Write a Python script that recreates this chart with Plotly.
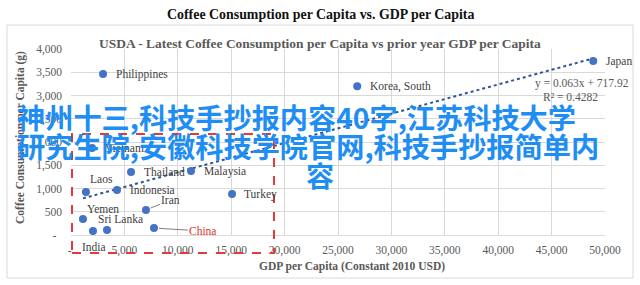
import plotly.graph_objects as go

# ---------------- data ----------------
countries = ["Philippines", "Korea, South", "Japan", "Vietnam", "Thailand", "Malaysia",
             "Laos", "Indonesia", "Turkey", "Iran", "Yemen", "India", "Sri Lanka", "China"]
gdp_per_capita = [3000, 26800, 48900, 1970, 5620, 11240, 1400, 4310, 15080, 7020, 1120, 2060, 3370, 7770]
coffee_per_capita = [3460, 3200, 3740, 1870, 1355, 1375, 925, 970, 880, 540, 345, 85, 110, 150]

trend_slope = 0.063
trend_intercept = 717.92
trend_eq_text = "y = 0.063x + 717.92"
trend_r2_text = "R² = 0.4282"

x_tick_vals = [0, 5000, 10000, 15000, 20000, 25000, 30000, 35000, 40000, 45000, 50000]
x_tick_text = ["-\u00a0", "5,000", "10,000", "15,000", "20,000", "25,000", "30,000",
               "35,000", "40,000", "45,000", "50,000"]
y_tick_vals = [0, 500, 1000, 1500, 2000, 2500, 3000, 3500, 4000]
y_tick_text = ["-\u00a0\u00a0", "500", "1,000", "1,500", "2,000", "2,500", "3,000", "3,500", "4,000"]

title_text = "Coffee Consumption per Capita vs. GDP per Capita"
subtitle_text = "USDA - Latest Coffee Consumption per Capita vs prior year GDP per Capita"
x_title = "GDP per Capita (Constant 2010 USD)"
y_title = "Coffee Consumption per Capita (g)"

overlay_lines = ["神州十三,科技手抄报内容40字,江苏科技大学",
                 "研究生院,安徽科技学院官网,科技手抄报简单内",
                 "容"]

# ---------------- layout geometry (pixels) ----------------
W, H = 640, 285
PL, PR, PT, PB = 71, 605, 49, 235   # plot area


def px_x(p):
    return (p - PL) / (PR - PL)


def px_y(p):
    return (PB - p) / (PB - PT)


SERIF = "Liberation Serif, Times New Roman, serif"
GREY = "#595959"
LABEL_GREY = "#404040"
MARKER = "#4472C4"

fig = go.Figure()

# trendline (from equation shown on chart, across data x-range)
x_min, x_max = min(gdp_per_capita), max(gdp_per_capita)
fig.add_trace(go.Scatter(
    x=[x_min, x_max],
    y=[trend_slope * x_min + trend_intercept, trend_slope * x_max + trend_intercept],
    mode="lines", line=dict(color="#2F5597", width=2, dash="dot"),
    hoverinfo="skip", showlegend=False))

fig.add_trace(go.Scatter(
    x=gdp_per_capita, y=coffee_per_capita, mode="markers",
    marker=dict(color=MARKER, size=8),
    text=countries, showlegend=False))

# label offsets (style): (xanchor, xshift, yshift)
label_style = {
    "Philippines": ("left", 11, 0),
    "Korea, South": ("left", 11, 0),
    "Japan": ("left", 11, 0),
    "Vietnam": ("left", 11, 0),
    "Thailand": ("left", 11, 0),
    "Malaysia": ("left", 11, 0),
    "Laos": ("center", 16, 13),
    "Indonesia": ("left", 11, 0),
    "Turkey": ("left", 10, 0),
    "Yemen": ("center", 20, 10),
    "Sri Lanka": ("center", 14, 11),
    "India": ("center", 1, -16),
}
annotations = []
for name, gx, cy in zip(countries, gdp_per_capita, coffee_per_capita):
    if name in label_style:
        xa, xs, ys = label_style[name]
        annotations.append(dict(x=gx, y=cy, xref="x", yref="y", text=name, showarrow=False,
                                xanchor=xa, yanchor="middle", xshift=xs, yshift=ys,
                                font=dict(family=SERIF, size=11.5, color=LABEL_GREY)))
    elif name == "Iran":
        annotations.append(dict(x=gx, y=cy, xref="x", yref="y", text=name, showarrow=True,
                                arrowhead=0, arrowwidth=1, arrowcolor="#7f7f7f", ax=25, ay=-10,
                                standoff=5,
                                font=dict(family=SERIF, size=11.5, color=LABEL_GREY)))
    elif name == "China":
        annotations.append(dict(x=gx, y=cy, xref="x", yref="y", text=name, showarrow=True,
                                arrowhead=0, arrowwidth=1, arrowcolor="#7f7f7f", ax=49, ay=3,
                                standoff=5,
                                font=dict(family=SERIF, size=11.5, color="#E0302A")))

# titles
annotations += [
    dict(x=px_x(320), y=px_y(15), xref="paper", yref="paper", text="<b>" + title_text + "</b>",
         showarrow=False, xanchor="center", yanchor="middle",
         font=dict(family=SERIF, size=13.9, color="#111111")),
    dict(x=px_x(320), y=px_y(43), xref="paper", yref="paper", text="<b>" + subtitle_text + "</b>",
         showarrow=False, xanchor="center", yanchor="middle",
         font=dict(family=SERIF, size=13.45, color=GREY)),
    dict(x=px_x(352), y=px_y(266), xref="paper", yref="paper", text="<b>" + x_title + "</b>",
         showarrow=False, xanchor="center", yanchor="middle",
         font=dict(family=SERIF, size=11.5, color=GREY)),
    dict(x=px_x(20), y=px_y(138), xref="paper", yref="paper", text="<b>" + y_title + "</b>",
         showarrow=False, xanchor="center", yanchor="middle", textangle=-90,
         font=dict(family=SERIF, size=11.5, color=GREY)),
    dict(x=px_x(631), y=px_y(83), xref="paper", yref="paper", text=trend_eq_text,
         showarrow=False, xanchor="right", yanchor="middle",
         font=dict(family=SERIF, size=11.5, color=GREY)),
    dict(x=px_x(600), y=px_y(97), xref="paper", yref="paper", text=trend_r2_text,
         showarrow=False, xanchor="right", yanchor="middle",
         font=dict(family=SERIF, size=11.5, color=GREY)),
]

# overlay Chinese text
overlay_pos = [(15, 116, "left"), (15, 145, "left"), (320, 174, "center")]
for line, (ox, oy, anc) in zip(overlay_lines, overlay_pos):
    annotations.append(dict(x=px_x(ox), y=px_y(oy), xref="paper", yref="paper",
                            text="<b>" + line + "</b>", showarrow=False,
                            xanchor=anc, yanchor="middle",
                            font=dict(family="Noto Sans CJK SC", size=28.2, color="#1E8EF5")))

shapes = [
    # outer chart frame
    dict(type="rect", xref="paper", yref="paper", x0=px_x(7), x1=px_x(633), y0=px_y(278), y1=px_y(25),
         line=dict(color="#D9D9D9", width=1), layer="below"),
    # red dashed highlight box
    dict(type="rect", xref="paper", yref="paper", x0=px_x(72), x1=px_x(274), y0=px_y(253), y1=px_y(134),
         line=dict(color="#E03C3C", width=2, dash="dash")),
]

fig.update_layout(
    width=W, height=H, autosize=False,
    margin=dict(l=PL, r=W - PR, t=PT, b=H - PB, pad=0),
    paper_bgcolor="white", plot_bgcolor="white",
    showlegend=False,
    annotations=annotations, shapes=shapes,
    xaxis=dict(range=[0, 50000], tickvals=x_tick_vals, ticktext=x_tick_text,
               showgrid=True, gridcolor="#D9D9D9", gridwidth=1, zeroline=False,
               showline=True, linecolor="#D9D9D9", mirror=False, ticks="",
               tickfont=dict(family=SERIF, size=11.5, color=GREY), ticklabelstandoff=4),
    yaxis=dict(range=[0, 4000], tickvals=y_tick_vals, ticktext=y_tick_text,
               showgrid=True, gridcolor="#D9D9D9", gridwidth=1, zeroline=False,
               showline=False, ticks="",
               tickfont=dict(family=SERIF, size=11.5, color=GREY), ticklabelstandoff=8),
)

fig.write_html("out.html")
